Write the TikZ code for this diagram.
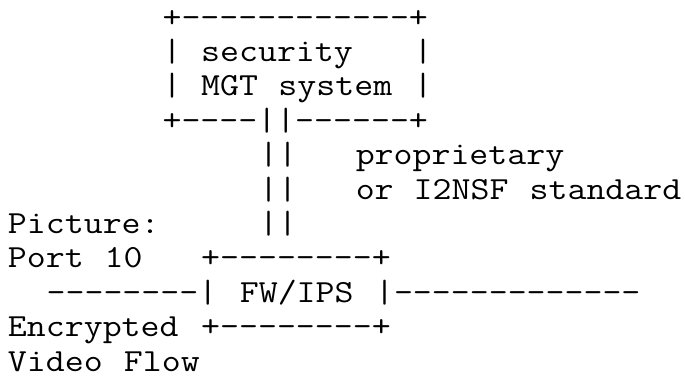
\documentclass[tikz,border=0pt]{standalone}
\usepackage{fontspec}
\setmonofont{Latin Modern Mono}[FakeStretch=1.143]
\tikzset{txt/.style={anchor=base west,inner sep=0pt,outer sep=0pt,font=\ttfamily\fontsize{32.2}{34.4}\selectfont,text=black}}
\begin{document}
\begin{tikzpicture}[x=19.32pt,y=-34.4pt]
\fill[white] (-8pt,27pt) rectangle (677pt,-351pt);
\useasboundingbox (-8pt,27pt) rectangle (677pt,-351pt);
% security management system box
\node[txt] (mgtTop) at (8,0) {+------------+};
\node[txt] (mgtL1) at (8,1) {|};
\node[txt] (mgtSec) at (10,1) {security};
\node[txt] (mgtR1) at (21,1) {|};
\node[txt] (mgtL2) at (8,2) {|};
\node[txt] (mgtMGT) at (10,2) {MGT};
\node[txt] (mgtSys) at (14,2) {system};
\node[txt] (mgtR2) at (21,2) {|};
\node[txt] (mgtBot) at (8,3) {+----||------+};
% link
\node[txt] (link1) at (13,4) {||};
\node[txt] (prop) at (18,4) {proprietary};
\node[txt] (link2) at (13,5) {||};
\node[txt] (or) at (18,5) {or};
\node[txt] (i2nsf) at (21,5) {I2NSF};
\node[txt] (std) at (27,5) {standard};
\node[txt] (pic) at (0,6) {Picture:};
\node[txt] (link3) at (13,6) {||};
% FW/IPS box and flow
\node[txt] (port) at (0,7) {Port};
\node[txt] (ten) at (5,7) {10};
\node[txt] (fwTop) at (10,7) {+--------+};
\node[txt] (flowL) at (2,8) {--------|};
\node[txt] (fw) at (12,8) {FW/IPS};
\node[txt] (flowR) at (19,8) {|-------------};
\node[txt] (enc) at (0,9) {Encrypted};
\node[txt] (fwBot) at (10,9) {+--------+};
\node[txt] (video) at (0,10) {Video};
\node[txt] (flow) at (6,10) {Flow};
\end{tikzpicture}
\end{document}
